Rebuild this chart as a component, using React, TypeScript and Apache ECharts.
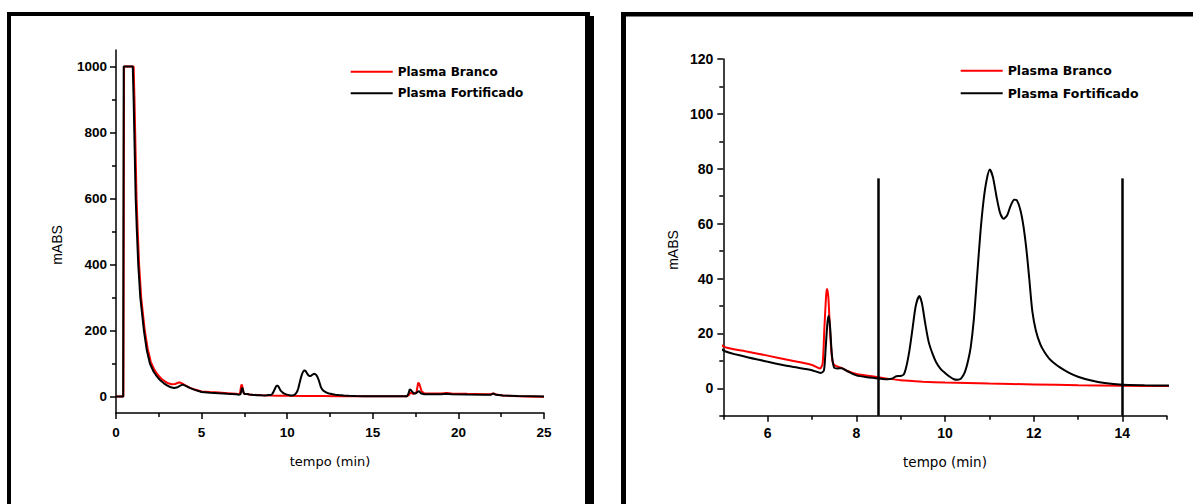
import React, { useEffect, useRef } from "react";
import * as echarts from "echarts";

// ---- data (time in min, absorbance in mABS) ----
const seriesNames = ["Plasma Branco", "Plasma Fortificado"];

const brancoTime = [
  0, 0.43, 0.47, 1.03, 1.08, 1.12, 1.16, 1.2, 1.27, 1.35, 1.47, 1.68, 1.85, 2.03, 2.25, 2.45, 2.65, 2.85,
  3.05, 3.25, 3.45, 3.6, 3.72, 3.85, 4.05, 4.3, 4.6, 5.0, 5.5, 6.0, 6.5, 7.0, 7.18, 7.24, 7.28, 7.32,
  7.34, 7.37, 7.41, 7.46, 7.52, 7.65, 7.8, 8.0, 8.5, 9.0, 9.5, 10.0, 11.0, 12.0, 13.0, 14.0, 15.0, 16.0,
  17.0, 17.1, 17.2, 17.35, 17.55, 17.65, 17.72, 17.85, 18.0, 18.5, 19.0, 19.3, 19.6, 20.5, 21.5, 21.9,
  22.03, 22.2, 22.6, 23.5, 24.5, 25.0,
];
const brancoValues = [
  0, 0, 1000, 1000, 900, 800, 700, 600, 500, 400, 300, 200, 145, 105, 80, 65, 54, 46,
  40, 37, 38, 41, 43, 40, 34, 27, 21, 15.3, 13.5, 11.9, 10.2, 8.5, 7.2, 9, 22, 34,
  36.2, 33, 20, 10, 8.3, 7.5, 6.3, 5.2, 4.0, 2.9, 2.4, 2.1, 1.7, 1.4, 1.1, 0.9, 0.8, 0.8,
  0.9, 4, 12, 8, 12, 42, 38, 16, 10, 9, 9, 10.5, 9, 8, 7, 7,
  9.5, 6, 3, 1, -1, -1,
];

const fortificadoTime = [
  0, 0.42, 0.45, 0.98, 1.03, 1.07, 1.11, 1.15, 1.22, 1.3, 1.42, 1.63, 1.8, 1.98, 2.2, 2.4, 2.57, 2.8,
  3.0, 3.2, 3.4, 3.6, 3.75, 3.9, 4.05, 4.3, 4.6, 5.0, 5.5, 6.0, 6.5, 7.0, 7.2, 7.27, 7.31, 7.35,
  7.38, 7.41, 7.45, 7.5, 7.58, 7.67, 7.8, 8.0, 8.25, 8.5, 8.7, 8.82, 8.9, 9.0, 9.07, 9.13,
  9.2, 9.27, 9.34, 9.42, 9.48, 9.55, 9.63, 9.72, 9.8, 9.9, 10.0, 10.1, 10.2, 10.28, 10.36, 10.45,
  10.52, 10.58, 10.65, 10.72, 10.8, 10.87, 10.94, 11.01, 11.08, 11.16, 11.24, 11.32, 11.4, 11.48,
  11.56, 11.62, 11.7, 11.77, 11.84, 11.9, 11.97, 12.05, 12.15, 12.25, 12.35, 12.45, 12.6, 12.8,
  13.0, 13.3, 13.6, 14.0, 14.5, 15.0, 16.0, 17.0, 17.08, 17.16, 17.25, 17.4, 17.5, 17.62, 17.7,
  17.8, 18.0, 18.5, 19.0, 19.3, 19.6, 20.5, 21.5, 21.9, 22.03, 22.2, 22.6, 23.5, 24.5, 25.0,
];
const fortificadoValues = [
  0, 0, 1000, 1000, 900, 800, 700, 600, 500, 400, 300, 200, 140, 100, 75, 60, 50, 40,
  33, 28, 26, 28, 33, 36, 33, 26, 20, 13.8, 11.5, 9.7, 8.0, 6.6, 5.6, 6.5, 15, 24,
  26.4, 22, 12, 7.5, 7.2, 7.3, 6.2, 4.7, 4.0, 3.6, 3.3, 3.6, 4.4, 4.5, 5.0, 8,
  14, 22, 30, 33.6, 31, 24, 17, 12.5, 9.5, 7.1, 5.6, 4.3, 3.3, 3.1, 3.5, 6,
  10, 15, 25, 40, 57, 68.5, 76, 79.7, 77, 70, 64, 61.8, 63, 66.5,
  68.7, 68.5, 65, 59, 50, 40, 28, 21, 16, 13, 10.8, 9.3, 7.5, 5.6,
  4.2, 2.8, 1.9, 1.3, 1.1, 1.0, 0.8, 1.0, 8, 22, 18, 9, 9, 14, 16,
  10, 7, 7, 7, 8, 7, 6, 5, 5.5, 9, 5, 3, 1.5, 0.5, 0,
];

// integration window markers on the zoomed chart
const markerTimes = [8.5, 14];
const markerBottom = -10;
const markerTop = 76.5;

// axes
const leftXRange = [0, 25];
const leftXInterval = 5;
const leftYRange = [-50, 1050];
const leftYTicks = [0, 200, 400, 600, 800, 1000];
const leftYMinorTicks = [100, 300, 500, 700, 900];

const rightXRange = [5, 15];
const rightXTicks = [6, 8, 10, 12, 14];
const rightXMinorTicks = [5, 7, 9, 11, 13, 15];
const rightYRange = [-10, 120];
const rightYTicks = [0, 20, 40, 60, 80, 100, 120];
const rightYMinorTicks = [-10, 10, 30, 50, 70, 90, 110];

const xLabel = "tempo (min)";
const yLabel = "mABS";

const pairs = (t: number[], v: number[]) => t.map((x, i) => [x, v[i]]);

export default function App() {
  const ref = useRef<HTMLDivElement>(null);

  useEffect(() => {
    if (!ref.current) return;
    const chart = echarts.init(ref.current, null, { renderer: "svg" });

    const axisLine = { show: true, onZero: false, lineStyle: { color: "#000", width: 1.5 } };
    const hiddenLine = { show: false, onZero: false };
    const tickStyle = { color: "#000", width: 1.5 };
    const labelStyle = (size: number) => ({
      color: "#000",
      fontFamily: "Liberation Sans",
      fontWeight: "bold" as const,
      fontSize: size,
      formatter: (v: number) => String(v),
    });

    const brancoData = pairs(brancoTime, brancoValues);
    const fortData = pairs(fortificadoTime, fortificadoValues);

    const lineSeries = (name: string, data: number[][], color: string, xi: number, yi: number, extra: any = {}) => ({
      type: "line",
      name,
      data,
      xAxisIndex: xi,
      yAxisIndex: yi,
      showSymbol: false,
      symbol: "none",
      smooth: false,
      clip: true,
      lineStyle: { color, width: 2 },
      itemStyle: { color },
      ...extra,
    });

    const legendBase = (left: number, top: number, size: number, gap: number) => ({
      orient: "vertical",
      left,
      top,
      padding: 0,
      icon: "rect",
      itemWidth: 42,
      itemHeight: 2,
      itemGap: gap,
      data: seriesNames,
      selectedMode: false,
      textStyle: {
        color: "#000",
        fontFamily: "DejaVu Sans",
        fontWeight: "bold",
        fontSize: size,
        lineHeight: 14,
      },
    });

    const option: any = {
      animation: false,
      backgroundColor: "#fff",
      grid: [
        { left: 116, top: 50, width: 428, height: 363 },
        { left: 723.3, top: 59, width: 443.4, height: 356.7 },
      ],
      legend: [legendBase(350.7, 64.7, 12, 7.6), legendBase(960.7, 63.7, 12.5, 8.6)],
      xAxis: [
        {
          type: "value",
          gridIndex: 0,
          position: "bottom",
          min: leftXRange[0],
          max: leftXRange[1],
          interval: leftXInterval,
          axisLine,
          axisTick: { show: true, length: 6, lineStyle: tickStyle },
          minorTick: { show: true, splitNumber: 2, length: 4, lineStyle: tickStyle },
          axisLabel: { ...labelStyle(13.5), margin: 12 },
          splitLine: { show: false },
        },
        {
          type: "value",
          gridIndex: 1,
          position: "bottom",
          min: rightXRange[0],
          max: rightXRange[1],
          axisLine,
          axisTick: { show: true, length: 6, customValues: rightXTicks, lineStyle: tickStyle },
          axisLabel: { ...labelStyle(14), margin: 10, customValues: rightXTicks },
          splitLine: { show: false },
        },
        {
          type: "value",
          gridIndex: 1,
          position: "bottom",
          offset: 0,
          min: rightXRange[0],
          max: rightXRange[1],
          axisLine: hiddenLine,
          axisTick: { show: true, length: 4, customValues: rightXMinorTicks, lineStyle: tickStyle },
          axisLabel: { show: false },
          splitLine: { show: false },
        },
      ],
      yAxis: [
        {
          type: "value",
          gridIndex: 0,
          position: "left",
          min: leftYRange[0],
          max: leftYRange[1],
          axisLine,
          axisTick: { show: true, length: 6, customValues: leftYTicks, lineStyle: tickStyle },
          axisLabel: { ...labelStyle(13.5), margin: 9, customValues: leftYTicks },
          splitLine: { show: false },
        },
        {
          type: "value",
          gridIndex: 0,
          position: "left",
          offset: 0,
          min: leftYRange[0],
          max: leftYRange[1],
          axisLine: hiddenLine,
          axisTick: { show: true, length: 4, customValues: leftYMinorTicks, lineStyle: tickStyle },
          axisLabel: { show: false },
          splitLine: { show: false },
        },
        {
          type: "value",
          gridIndex: 1,
          position: "left",
          min: rightYRange[0],
          max: rightYRange[1],
          axisLine,
          axisTick: { show: true, length: 6, customValues: rightYTicks, lineStyle: tickStyle },
          axisLabel: { ...labelStyle(14), margin: 10, customValues: rightYTicks },
          splitLine: { show: false },
        },
        {
          type: "value",
          gridIndex: 1,
          position: "left",
          offset: 0,
          min: rightYRange[0],
          max: rightYRange[1],
          axisLine: hiddenLine,
          axisTick: { show: true, length: 4, customValues: rightYMinorTicks, lineStyle: tickStyle },
          axisLabel: { show: false },
          splitLine: { show: false },
        },
      ],
      series: [
        lineSeries(seriesNames[0], brancoData, "#ff0000", 0, 0),
        lineSeries(seriesNames[1], fortData, "#000000", 0, 0),
        lineSeries(seriesNames[0], brancoData, "#ff0000", 1, 2, { smooth: 0.25 }),
        lineSeries(seriesNames[1], fortData, "#000000", 1, 2, {
          smooth: 0.25,
          markLine: {
            silent: true,
            symbol: "none",
            label: { show: false },
            lineStyle: { color: "#000", width: 2.5, type: "solid" },
            data: markerTimes.map((t) => [{ coord: [t, markerBottom] }, { coord: [t, markerTop] }]),
          },
        }),
      ],
      graphic: [
        // panel frames
        { type: "rect", shape: { x: 7, y: 12, width: 583, height: 4 }, style: { fill: "#000" } },
        { type: "rect", shape: { x: 7, y: 12, width: 4, height: 492 }, style: { fill: "#000" } },
        { type: "rect", shape: { x: 585, y: 16, width: 9, height: 488 }, style: { fill: "#000" } },
        { type: "rect", shape: { x: 621, y: 12, width: 572, height: 4.5 }, style: { fill: "#000" } },
        { type: "rect", shape: { x: 621, y: 12, width: 5, height: 492 }, style: { fill: "#000" } },
        // axis titles
        {
          type: "text", x: 57, y: 245, rotation: Math.PI / 2,
          style: { text: yLabel, fill: "#000", font: "14px 'Liberation Sans'", align: "center", verticalAlign: "middle" },
        },
        {
          type: "text", x: 673, y: 250, rotation: Math.PI / 2,
          style: { text: yLabel, fill: "#000", font: "14px 'Liberation Sans'", align: "center", verticalAlign: "middle" },
        },
        {
          type: "text", x: 330, y: 461.5,
          style: { text: xLabel, fill: "#000", font: "13px 'DejaVu Sans'", align: "center", verticalAlign: "middle" },
        },
        {
          type: "text", x: 945, y: 461.5,
          style: { text: xLabel, fill: "#000", font: "13.5px 'DejaVu Sans'", align: "center", verticalAlign: "middle" },
        },
      ],
    };

    chart.setOption(option);
    return () => chart.dispose();
  }, []);

  return (
    <div
      ref={ref}
      style={{ position: "fixed", left: 0, top: 0, width: 1193, height: 504, background: "#fff" }}
    />
  );
}
